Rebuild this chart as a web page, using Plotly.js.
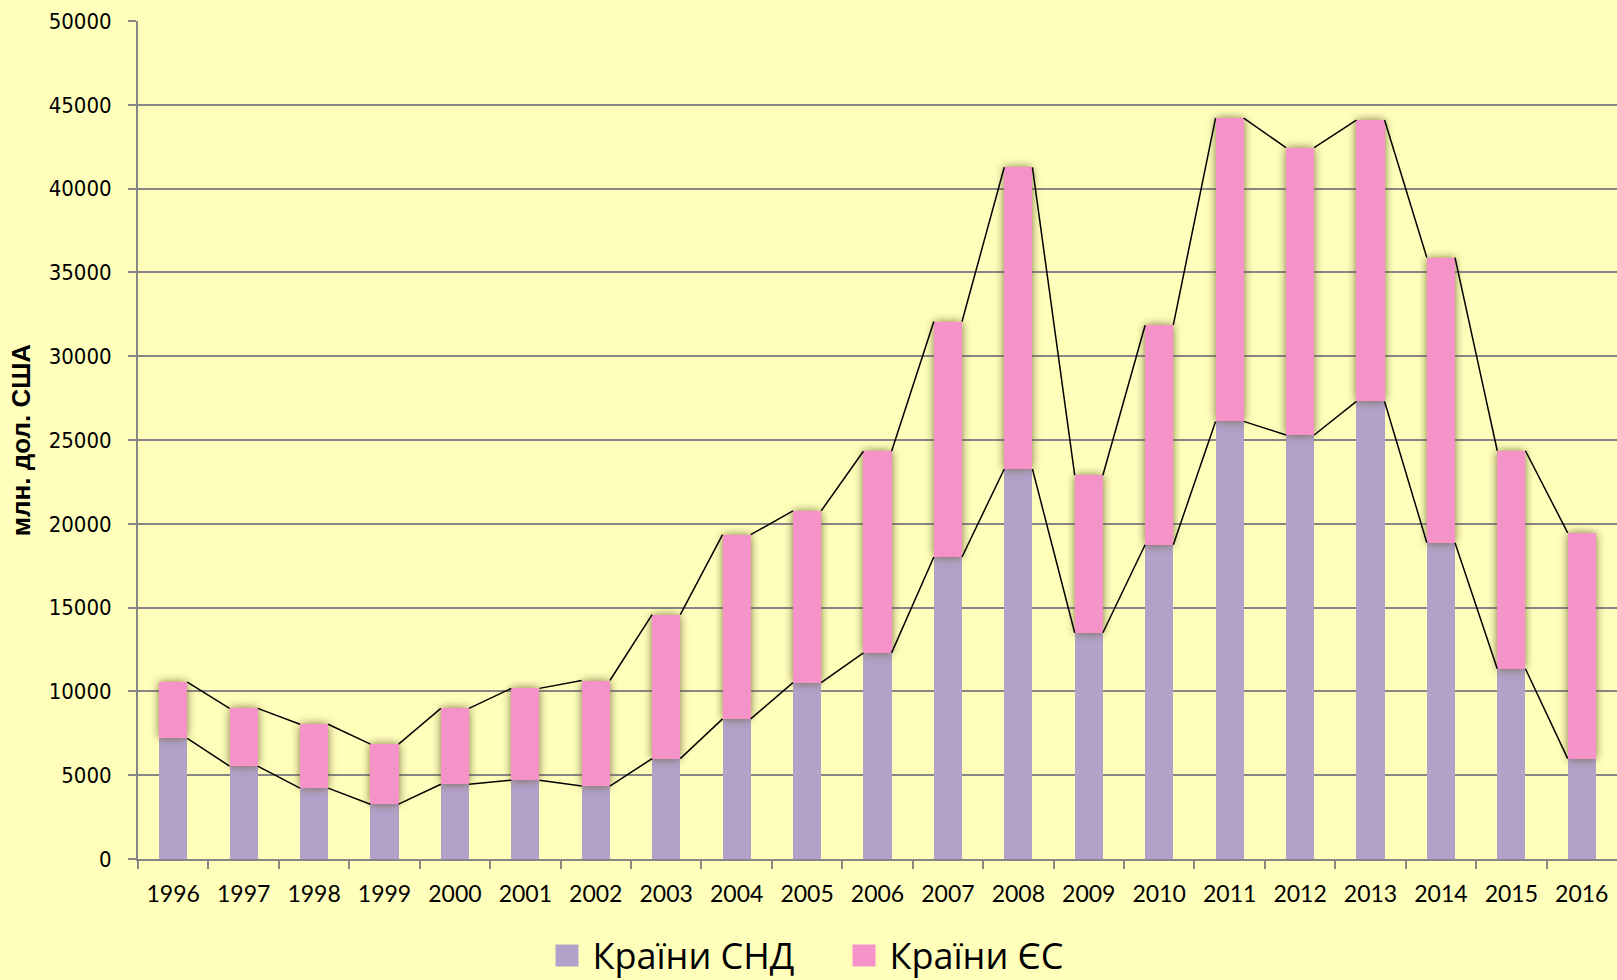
<!DOCTYPE html>
<html>
<head>
<meta charset="utf-8">
<script src="https://cdn.plot.ly/plotly-3.0.1.min.js"></script>
<style>
  html, body { margin: 0; padding: 0; background: #FFFFBB; }
  #chart { width: 1617px; height: 980px; }
</style>
</head>
<body>
<div id="chart"></div>
<script>
// ---- data (млн. дол. США) ----
const years = ["1996","1997","1998","1999","2000","2001","2002","2003","2004","2005","2006",
               "2007","2008","2009","2010","2011","2012","2013","2014","2015","2016"];
const cisValues = [7200, 5540, 4230, 3270, 4460, 4700, 4350, 5990, 8360, 10520, 12300,
                   18020, 23270, 13500, 18750, 26110, 25300, 27300, 18870, 11350, 5990];
const euValues  = [3350, 3450, 3810, 3580, 4530, 5480, 6300, 8590, 10990, 10250, 12030,
                   14050, 18000, 9400, 13100, 18100, 17140, 16790, 17010, 13010, 13470];
const seriesNames = ["Країни СНД", "Країни ЄС"];
const yTickVals = [0, 5000, 10000, 15000, 20000, 25000, 30000, 35000, 40000, 45000, 50000];
const yTickText = ["0", "5000", "10000", "15000", "20000", "25000", "30000", "35000", "40000", "45000", "50000"];

// ---- derived ----
const idx = years.map((_, i) => i);
const totals = cisValues.map((v, i) => v + euValues[i]);
const barWidth = 0.4;

function seriesLine(vals) {
  const xs = [], ys = [];
  for (let i = 0; i < vals.length - 1; i++) {
    xs.push(i + barWidth / 2, i + 1 - barWidth / 2, null);
    ys.push(vals[i], vals[i + 1], null);
  }
  return { x: xs, y: ys };
}
const cisLine = seriesLine(cisValues);
const totLine = seriesLine(totals);

const traces = [
  { type: 'bar', name: seriesNames[0], x: idx, y: cisValues, width: barWidth,
    marker: { color: '#B2A1C8' }, hoverinfo: 'y' },
  { type: 'bar', name: seriesNames[1], x: idx, y: euValues, width: barWidth,
    marker: { color: '#F593C8' }, hoverinfo: 'y' },
  { type: 'scatter', mode: 'lines', x: cisLine.x, y: cisLine.y, showlegend: false,
    line: { color: '#000000', width: 1.5 }, hoverinfo: 'skip', connectgaps: false },
  { type: 'scatter', mode: 'lines', x: totLine.x, y: totLine.y, showlegend: false,
    line: { color: '#000000', width: 1.5 }, hoverinfo: 'skip', connectgaps: false }
];

const layout = {
  width: 1617, height: 980,
  paper_bgcolor: '#FFFFBB', plot_bgcolor: '#FFFFBB',
  margin: { l: 138, r: 0, t: 21, b: 121, pad: 0, autoexpand: false },
  barmode: 'stack',
  showlegend: true,
  legend: {
    orientation: 'h', xref: 'container', yref: 'container',
    x: 0.3417, xanchor: 'left', y: 0.025, yanchor: 'middle',
    font: { family: '"Open Sans", sans-serif', size: 36, color: '#000' },
    entrywidth: 252, entrywidthmode: 'pixels',
    traceorder: 'normal', bgcolor: 'rgba(0,0,0,0)', itemclick: false
  },
  xaxis: {
    range: [-0.5, years.length - 0.5],
    tickmode: 'array', tickvals: idx, ticktext: years, ticks: '',
    showgrid: false, zeroline: false,
    showline: true, linecolor: '#868686', linewidth: 2,
    tickfont: { family: 'Lato, sans-serif', size: 23, color: '#000' },
    ticklabelstandoff: 13,
    minor: {
      tickmode: 'array', tickvals: idx.concat([years.length - 1]).map(i => i - 0.5),
      ticks: 'outside', ticklen: 8, tickcolor: '#868686', tickwidth: 2, showgrid: false
    },
    fixedrange: true
  },
  yaxis: {
    range: [0, 50000], tickmode: 'array', tickvals: yTickVals, ticktext: yTickText,
    ticks: 'outside', ticklen: 8, tickcolor: '#868686', tickwidth: 2,
    showgrid: true, gridcolor: '#868686', gridwidth: 2,
    zeroline: false, showline: true, linecolor: '#868686', linewidth: 2,
    tickfont: { family: '"DejaVu Sans Condensed", "DejaVu Sans", sans-serif', size: 22, color: '#000' },
    ticklabelstandoff: 12,
    title: { text: 'млн. дол. США', standoff: 11,
             font: { family: '"Liberation Sans", Arial, sans-serif', size: 26, color: '#000', weight: 'bold' } },
    fixedrange: true
  }
};

Plotly.newPlot('chart', traces, layout, { displayModeBar: false, staticPlot: true }).then(() => {
  // enlarge legend squares (Excel-style big square keys)
  document.querySelectorAll('.legend .legendpoints path').forEach(p => {
    p.setAttribute('d', 'M6,11H-17V-11H6Z');
  });
  // soft shadow around the EU (upper) bar segments
  const barTraces = document.querySelectorAll('.barlayer .trace');
  if (barTraces.length > 1) {
    barTraces[1].querySelectorAll('path').forEach(p => {
      p.style.filter = 'drop-shadow(0px 0px 5px rgba(110, 90, 50, 0.85))';
    });
  }
});
</script>
</body>
</html>
